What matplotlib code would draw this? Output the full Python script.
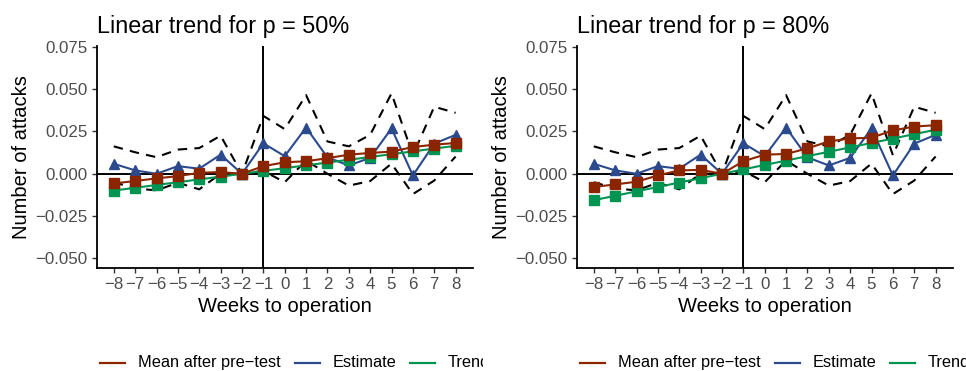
import matplotlib
matplotlib.use("Agg")
import matplotlib.pyplot as plt
from matplotlib.lines import Line2D
from matplotlib.transforms import Bbox, TransformedBbox

plt.rcParams['font.family'] = ['Liberation Sans', 'DejaVu Sans']

weeks = [-8, -7, -6, -5, -4, -3, -2, -1, 0, 1, 2, 3, 4, 5, 6, 7, 8]
week_labels = ["\u22128", "\u22127", "\u22126", "\u22125", "\u22124", "\u22123", "\u22122", "\u22121",
               "0", "1", "2", "3", "4", "5", "6", "7", "8"]
y_ticks = [-0.050, -0.025, 0.000, 0.025, 0.050, 0.075]
y_tick_labels = ["\u22120.050", "\u22120.025", "0.000", "0.025", "0.050", "0.075"]

estimate = [0.0059, 0.0020, 0.0000, 0.0045, 0.0030, 0.0113, 0.0000, 0.0180, 0.0104,
            0.0273, 0.0097, 0.0049, 0.0094, 0.0268, -0.0010, 0.0178, 0.0230]
upper_ci = [0.0162, 0.0127, 0.0098, 0.0143, 0.0152, 0.0225, 0.0000, 0.0342, 0.0264,
            0.0465, 0.0191, 0.0162, 0.0230, 0.0475, 0.0110, 0.0396, 0.0360]
lower_ci = [-0.0050, -0.0087, -0.0098, -0.0053, -0.0092, 0.0001, 0.0000, 0.0017, -0.0050,
            0.0078, 0.0000, -0.0070, -0.0043, 0.0060, -0.0120, -0.0040, 0.0102]

mean_p50 = [-0.0057, -0.0043, -0.0027, -0.0014, 0.0006, 0.0010, 0.0000, 0.0045, 0.0068,
            0.0074, 0.0092, 0.0113, 0.0123, 0.0131, 0.0158, 0.0172, 0.0182]
trend_p50 = [-0.0099, -0.0083, -0.0066, -0.0050, -0.0033, -0.0017, 0.0000, 0.0017, 0.0033,
             0.0050, 0.0066, 0.0083, 0.0099, 0.0116, 0.0132, 0.0149, 0.0165]

mean_p80 = [-0.0078, -0.0063, -0.0047, -0.0010, 0.0020, 0.0023, 0.0000, 0.0074, 0.0113,
            0.0117, 0.0150, 0.0191, 0.0209, 0.0213, 0.0256, 0.0279, 0.0287]
trend_p80 = [-0.0156, -0.0130, -0.0104, -0.0078, -0.0052, -0.0026, 0.0000, 0.0026, 0.0052,
             0.0078, 0.0104, 0.0130, 0.0156, 0.0182, 0.0208, 0.0234, 0.0260]

titles = ["Linear trend for p = 50%", "Linear trend for p = 80%"]
legend_labels = ["Mean after pre\u2212test", "Estimate", "Trend"]

RED = "#8B2500"
BLUE = "#2B4A8E"
GREEN = "#009452"

W, H = 966, 371
fig = plt.figure(figsize=(W / 100, H / 100), dpi=100)

panels = [(mean_p50, trend_p50), (mean_p80, trend_p80)]
offsets = [0, 480]

for i, ((mean_v, trend_v), off) in enumerate(zip(panels, offsets)):
    left_px = 96.7 + off
    ax = fig.add_axes([left_px / W, 1 - 267.7 / H, 376 / W, (267.7 - 46) / H])
    ax.plot(weeks, upper_ci, color="black", ls=(0, (4.5, 3.5)), lw=1.5, zorder=2)
    ax.plot(weeks, lower_ci, color="black", ls=(0, (4.5, 3.5)), lw=1.5, zorder=2)
    ax.axhline(0, color="black", lw=1.4, zorder=3)
    ax.axvline(-1, color="black", lw=1.4, zorder=3)
    ax.plot(weeks, estimate, color=BLUE, lw=1.5, marker="^", ms=7, zorder=4)
    ax.plot(weeks, trend_v, color=GREEN, lw=1.5, marker="s", ms=7, zorder=5)
    ax.plot(weeks, mean_v, color=RED, lw=1.5, marker="s", ms=7, zorder=6)

    ax.set_xlim(-8.8, 8.8)
    ax.set_ylim(-0.0555, 0.0755)
    ax.set_xticks(weeks)
    ax.set_xticklabels(week_labels)
    ax.set_yticks(y_ticks)
    ax.set_yticklabels(y_tick_labels)
    ax.tick_params(axis="both", labelsize=12.2, labelcolor="#4D4D4D", color="#333333",
                   length=3.5, width=1.0, pad=3)
    for s in ["top", "right"]:
        ax.spines[s].set_visible(False)
    for s in ["left", "bottom"]:
        ax.spines[s].set_linewidth(1.3)
    ax.set_xlabel("Weeks to operation", fontsize=14.5, labelpad=3.5)
    ax.set_ylabel("Number of attacks", fontsize=14.5, labelpad=3)
    ax.set_title(titles[i], fontsize=16.8, loc="left", pad=9)

    # legend (clipped at panel edge, as in the reference)
    clip = TransformedBbox(Bbox([[off / W, 0], [(off + 483 if i == 0 else W) / W, 1]]),
                           fig.transFigure)
    items = [(RED, 100, 125, 138), (BLUE, 295, 320, 333), (GREEN, 410, 435, 448)]
    ly = 1 - 362.5 / H
    for (col, k0, k1, tx), lab in zip(items, legend_labels):
        ln = Line2D([(k0 + off) / W, (k1 + off) / W], [ly, ly], color=col, lw=1.6,
                    transform=fig.transFigure)
        ln.set_clip_box(clip)
        fig.add_artist(ln)
        t = fig.text((tx + off) / W, ly, lab, fontsize=11.8, va="center", ha="left")
        t.set_clip_box(clip)
        t.set_clip_on(True)

fig.savefig("out.png", dpi=100)
